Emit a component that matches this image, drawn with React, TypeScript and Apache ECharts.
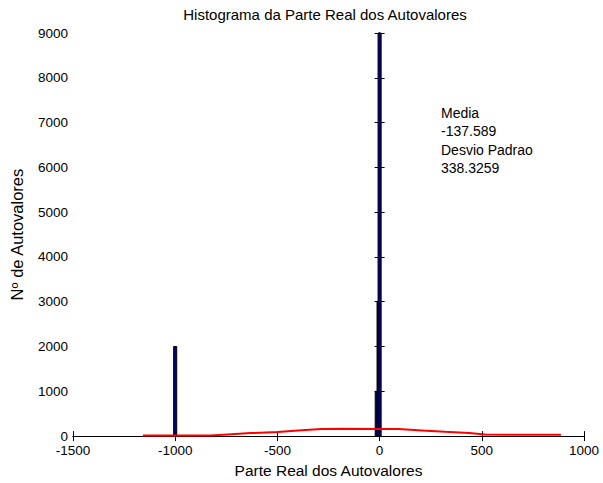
import React, { useEffect, useRef } from "react";
import * as echarts from "echarts";

// Histogram bins (bin centers and counts)
const binCenters = [-1000, -14, -5, 0];
const binCounts = [2000, 1000, 3000, 9600];
const binWidth = 15;

// Red fitted curve
const curveX = [-1158, -950, -828, -744, -631, -498, -399, -286, -172, -5, 94, 207, 320, 438, 517, 616, 887];
const curveY = [16, 16, 16, 38, 67, 89, 127, 156, 163, 158, 156, 127, 96, 67, 38, 29, 29];

// Axis ticks
const xMin = -1500;
const xMax = 1000;
const xStep = 500;
const yMin = 0;
const yMax = 9000;
const yStep = 1000;

const titleText = "Histograma da Parte Real dos Autovalores";
const xName = "Parte Real dos Autovalores";
const yName = "Nº de Autovalores";
const statsLines = ["Media", "-137.589", "Desvio Padrao", "338.3259"];

const FONT = '"Liberation Sans", Arial, Helvetica, sans-serif';

export default function App() {
  const ref = useRef<HTMLDivElement>(null);
  useEffect(() => {
    if (!ref.current) return;
    const chart = echarts.init(ref.current, null, { renderer: "svg" });
    const axisCommon = {
      axisLine: { show: true, lineStyle: { color: "#000", width: 1 } },
      axisTick: { show: true, inside: true, length: 5, lineStyle: { color: "#000" } },
      splitLine: { show: false },
    };
    const fmt = (v: number) => String(v);
    chart.setOption({
      animation: false,
      backgroundColor: "#fff",
      textStyle: { fontFamily: FONT },
      grid: { left: 73, right: 19, top: 33, bottom: 46, containLabel: false },
      xAxis: [
        {
          type: "value",
          min: xMin,
          max: xMax,
          interval: xStep,
          position: "bottom",
          ...axisCommon,
          axisLabel: { color: "#000", fontSize: 13.5, margin: 7, fontFamily: FONT, formatter: fmt },
          name: xName,
          nameLocation: "middle",
          nameGap: 23,
          nameTextStyle: { color: "#000", fontSize: 15.5, fontFamily: FONT },
        },
        {
          type: "value",
          min: xMin,
          max: xMax,
          interval: xStep,
          position: "top",
          ...axisCommon,
          axisLabel: { show: false },
        },
      ],
      yAxis: [
        {
          type: "value",
          min: yMin,
          max: yMax,
          interval: yStep,
          position: "left",
          ...axisCommon,
          axisLabel: { color: "#000", fontSize: 13.5, margin: 5, fontFamily: FONT, formatter: fmt },
          name: yName,
          nameLocation: "middle",
          nameGap: 48,
          nameTextStyle: { color: "#000", fontSize: 16.5, fontFamily: FONT },
        },
        {
          type: "value",
          min: yMin,
          max: yMax,
          interval: yStep,
          position: "right",
          ...axisCommon,
          axisLabel: { show: false },
        },
      ],
      graphic: [
        {
          type: "text",
          x: 325,
          y: 14,
          style: {
            text: titleText,
            font: `15px ${FONT}`,
            fill: "#000",
            textAlign: "center",
            textVerticalAlign: "middle",
          },
        },
        ...statsLines.map((t, i) => ({
          type: "text",
          x: 441,
          y: 113 + i * 18.3,
          style: {
            text: t,
            font: `14px ${FONT}`,
            fill: "#000",
            textAlign: "left",
            textVerticalAlign: "middle",
          },
        })),
      ],
      series: [
        {
          type: "custom",
          xAxisIndex: 0,
          yAxisIndex: 0,
          data: binCenters.map((c, i) => [c, binCounts[i]]),
          renderItem: (params: any, api: any) => {
            const x = api.value(0);
            const y = api.value(1);
            const p1 = api.coord([x - binWidth / 2, y]);
            const p2 = api.coord([x + binWidth / 2, 0]);
            const rect = echarts.graphic.clipRectByRect(
              { x: p1[0], y: p1[1], width: p2[0] - p1[0], height: p2[1] - p1[1] },
              {
                x: params.coordSys.x,
                y: params.coordSys.y,
                width: params.coordSys.width,
                height: params.coordSys.height,
              }
            );
            if (!rect) return null;
            return {
              type: "rect",
              shape: rect,
              style: { fill: "#000080", stroke: "#000", lineWidth: 1 },
            };
          },
          z: 2,
        },
        {
          type: "line",
          xAxisIndex: 0,
          yAxisIndex: 0,
          data: curveX.map((x, i) => [x, curveY[i]]),
          showSymbol: false,
          symbol: "none",
          lineStyle: { color: "#ff0000", width: 2 },
          z: 3,
        },
      ],
    });
    return () => chart.dispose();
  }, []);
  return (
    <div
      ref={ref}
      style={{ position: "fixed", left: 0, top: 0, width: 603, height: 483, background: "#fff" }}
    />
  );
}
